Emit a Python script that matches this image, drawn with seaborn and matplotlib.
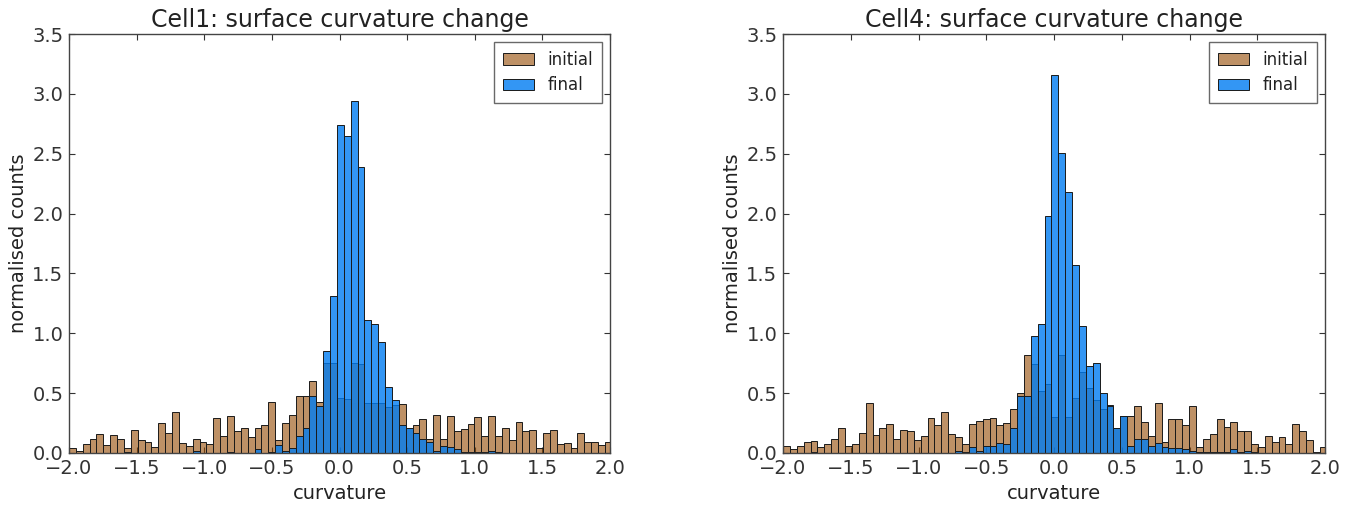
import numpy as np
import pandas as pd
import matplotlib
matplotlib.use("Agg")
import matplotlib.pyplot as plt
import seaborn as sns

# Normalised curvature histograms: 79 equal-width bins starting at -2
bin_width = 0.0508
n_bins = 79
bin_start = -2.0

cell1_initial = [
    0.04, 0.02, 0.075, 0.12, 0.16, 0.07, 0.15, 0.12, 0.04, 0.19,
    0.11, 0.09, 0.05, 0.25, 0.165, 0.34, 0.08, 0.06, 0.12,
    0.09, 0.075, 0.29, 0.145, 0.31, 0.18, 0.21, 0.13, 0.21, 0.23,
    0.43, 0.11, 0.25, 0.32, 0.48, 0.48, 0.60, 0.43,
    0.755, 0.75, 0.46, 0.45, 0.75, 0.74, 0.42, 0.42, 0.42, 0.38,
    0.40, 0.41, 0.21, 0.235, 0.28,
    0.12, 0.32, 0.12, 0.31, 0.18, 0.20, 0.24, 0.30, 0.145, 0.31,
    0.145, 0.21, 0.11, 0.26, 0.18, 0.195, 0.04,
    0.17, 0.19, 0.075, 0.085, 0.04, 0.17, 0.095, 0.09, 0.07, 0.09,
]
cell1_final = [
    0, 0, 0, 0, 0, 0, 0, 0, 0.01, 0,
    0, 0, 0, 0, 0, 0, 0, 0, 0.02,
    0, 0, 0, 0, 0.01, 0, 0, 0, 0.03, 0,
    0.01, 0.07, 0.02, 0.04, 0.14, 0.21, 0.48, 0.39,
    0.855, 1.31, 2.74, 2.65, 2.94, 2.39, 1.11, 1.08, 0.93, 0.55,
    0.44, 0.235, 0.21, 0.17, 0.12,
    0.09, 0.02, 0.06, 0.05, 0.03, 0.01, 0.01, 0.01, 0.01, 0.02,
    0.01, 0, 0, 0, 0, 0, 0,
    0, 0, 0, 0, 0, 0, 0, 0, 0, 0,
]
cell4_initial = [
    0.06, 0.035, 0.06, 0.095, 0.10, 0.05, 0.075, 0.12, 0.21, 0.055,
    0.075, 0.165, 0.42, 0.15, 0.21, 0.24, 0.12, 0.19, 0.18,
    0.11, 0.145, 0.29, 0.235, 0.34, 0.16, 0.13, 0.075, 0.24, 0.27,
    0.28, 0.29, 0.23, 0.25, 0.37, 0.50, 0.82,
    0.74, 0.52, 0.58, 0.30, 0.82, 0.30, 0.46, 0.68, 0.54, 0.44,
    0.37, 0.40, 0.21, 0.31,
    0.31, 0.39, 0.26, 0.14, 0.42, 0.095, 0.285, 0.28, 0.235, 0.39,
    0.05, 0.12, 0.16, 0.28, 0.215, 0.26, 0.18, 0.18, 0.075, 0.05,
    0.145, 0.095, 0.13, 0.075, 0.24, 0.18, 0.11, 0.01, 0.05,
]
cell4_final = [
    0, 0, 0, 0, 0.01, 0, 0, 0, 0, 0,
    0, 0, 0, 0, 0, 0, 0, 0, 0,
    0, 0, 0, 0, 0, 0, 0.02, 0.01, 0.05, 0.02,
    0.06, 0.06, 0.08, 0.075, 0.21, 0.48, 0.48,
    0.98, 1.08, 1.98, 3.16, 2.51, 2.18, 1.57, 1.06, 0.73, 0.75,
    0.50, 0.39, 0.21, 0.31,
    0.055, 0.12, 0.12, 0.06, 0.085, 0.05, 0.04, 0.04, 0.035, 0.02,
    0.01, 0.01, 0.01, 0.01, 0.01, 0.03, 0.01, 0.02, 0.01, 0,
    0, 0, 0, 0, 0, 0, 0, 0, 0,
]

panel_titles = ["Cell1: surface curvature change", "Cell4: surface curvature change"]
series_labels = ["initial", "final"]
x_ticks = [-2.0, -1.5, -1.0, -0.5, 0.0, 0.5, 1.0, 1.5, 2.0]
y_ticks = [0.0, 0.5, 1.0, 1.5, 2.0, 2.5, 3.0, 3.5]

sns.set_style("white")
plt.rcParams.update({
    "font.family": ["DejaVu Sans"],
    "xtick.direction": "in",
    "ytick.direction": "in",
    "xtick.top": True,
    "ytick.right": True,
    "xtick.bottom": True,
    "ytick.left": True,
    "xtick.major.size": 4,
    "ytick.major.size": 4,
    "axes.edgecolor": "#444444",
    "axes.linewidth": 1.0,
    "text.color": "#222222",
    "axes.labelcolor": "#222222",
    "xtick.color": "#333333",
    "ytick.color": "#333333",
})

edges = (bin_start + bin_width * np.arange(n_bins + 1)).tolist()
centers = [0.5 * (a + b) for a, b in zip(edges[:-1], edges[1:])]

fig = plt.figure(figsize=(13.58, 5.08), dpi=100)
ax1 = fig.add_axes([0.0508, 0.1083, 0.3984, 0.8247])
ax2 = fig.add_axes([0.5766, 0.1083, 0.3991, 0.8247])

tan = "#934800"
blue = "#007cf2"

for ax, title, init, fin in [
    (ax1, panel_titles[0], cell1_initial, cell1_final),
    (ax2, panel_titles[1], cell4_initial, cell4_final),
]:
    df_init = pd.DataFrame({"curvature": centers, "density": init})
    df_fin = pd.DataFrame({"curvature": centers, "density": fin})
    sns.histplot(data=df_init, x="curvature", weights="density", bins=edges,
                 ax=ax, color=tan, alpha=0.6, edgecolor="#1a1a1a",
                 linewidth=0.7, label=series_labels[0])
    sns.histplot(data=df_fin, x="curvature", weights="density", bins=edges,
                 ax=ax, color=blue, alpha=0.8, edgecolor="#1a1a1a",
                 linewidth=0.7, label=series_labels[1])
    ax.set_xlim(-2.0, 2.0)
    ax.set_ylim(0.0, 3.5)
    ax.set_xticks(x_ticks)
    ax.set_yticks(y_ticks)
    ax.set_xticklabels([f"{t:.1f}".replace("-", "\u2212") for t in x_ticks])
    ax.set_yticklabels([f"{t:.1f}" for t in y_ticks])
    ax.tick_params(labelsize=14, pad=4)
    ax.set_title(title, fontsize=17, pad=5)
    ax.set_xlabel("curvature", fontsize=14, labelpad=5)
    ax.set_ylabel("normalised counts", fontsize=14, labelpad=3)
    leg = ax.legend(loc="upper right", fontsize=12, fancybox=False,
                    frameon=True, borderpad=0.5, handlelength=1.9,
                    labelspacing=0.45, borderaxespad=0.5)
    leg.get_frame().set_edgecolor("#444444")
    leg.get_frame().set_linewidth(1.0)

fig.savefig("out.png", dpi=100)
